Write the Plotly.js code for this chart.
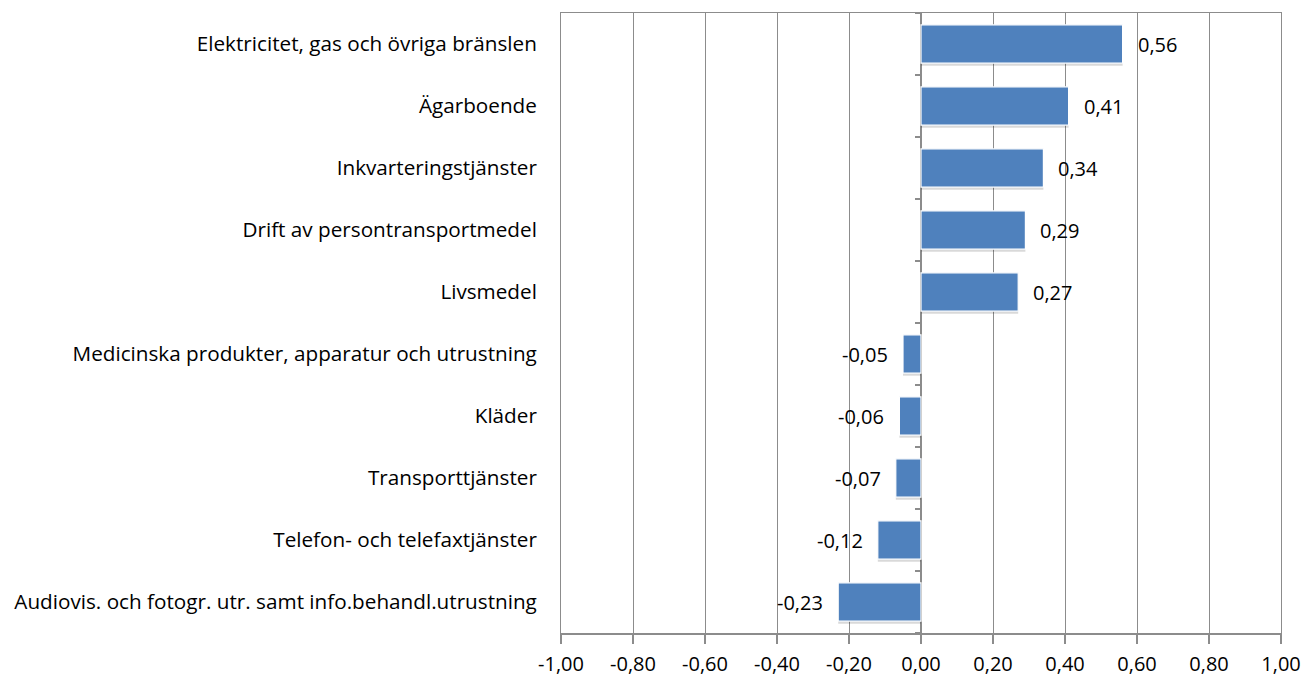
<!DOCTYPE html>
<html><head><meta charset="utf-8">
<script src="https://cdn.plot.ly/plotly-3.0.1.min.js"></script>
<style>html,body{margin:0;padding:0;background:#fff;}#chart{width:1306px;height:675px;}</style>
</head><body><div id="chart"></div>
<script>
const categories = [
  "Elektricitet, gas och övriga bränslen",
  "Ägarboende",
  "Inkvarteringstjänster",
  "Drift av persontransportmedel",
  "Livsmedel",
  "Medicinska produkter, apparatur och utrustning",
  "Kläder",
  "Transporttjänster",
  "Telefon- och telefaxtjänster",
  "Audiovis. och fotogr. utr. samt info.behandl.utrustning"
];
const values = [0.56, 0.41, 0.34, 0.29, 0.27, -0.05, -0.06, -0.07, -0.12, -0.23];
const xTickVals = [-1, -0.8, -0.6, -0.4, -0.2, 0, 0.2, 0.4, 0.6, 0.8, 1];
const xTickText = ["-1,00","-0,80","-0,60","-0,40","-0,20","0,00","0,20","0,40","0,60","0,80","1,00"];

const fmt = v => (v < 0 ? "-" : "") + Math.abs(v).toFixed(2).replace(".", ",");
const FONT = "'Open Sans', sans-serif";
const FS = 20;

const shadow = {
  type: "bar", orientation: "h", x: values, y: categories,
  marker: {color: "rgba(0,0,0,0.15)", line: {width: 0}},
  width: 0.62, offset: -0.27, hoverinfo: "skip", showlegend: false
};
const bars = {
  type: "bar", orientation: "h", x: values, y: categories,
  marker: {color: "#4F81BD", line: {color: "#ffffff", width: 1.2}},
  width: 0.62, offset: -0.31, showlegend: false
};
const tickTrace = {
  type: "scatter", x: [0], y: [0], yaxis: "y2", mode: "markers",
  marker: {opacity: 0}, hoverinfo: "skip", showlegend: false
};

const annotations = values.map((v, i) => ({
  x: v, y: categories[i], xref: "x", yref: "y",
  text: fmt(v), showarrow: false,
  xanchor: v >= 0 ? "left" : "right",
  xshift: v >= 0 ? 13 : -13,
  font: {family: FONT, size: FS, color: "#000"}
}));

const layout = {
  width: 1306, height: 675,
  margin: {l: 561, r: 25, t: 13, b: 42},
  paper_bgcolor: "#fff", plot_bgcolor: "#fff",
  barmode: "overlay",
  font: {family: FONT, size: FS, color: "#000"},
  xaxis: {
    range: [-1, 1], tickvals: xTickVals, ticktext: xTickText,
    showgrid: true, gridcolor: "#8c8c8c", gridwidth: 1,
    zeroline: true, zerolinecolor: "#8c8c8c", zerolinewidth: 1.5,
    showline: true, linecolor: "#8c8c8c", linewidth: 1.5, mirror: true,
    ticks: "outside", ticklen: 9, tickcolor: "#8c8c8c", tickwidth: 1.5,
    ticklabelstandoff: 3,
    tickfont: {family: FONT, size: FS, color: "#000"}
  },
  yaxis: {
    type: "category", autorange: "reversed",
    showgrid: false, zeroline: false,
    showline: true, mirror: true, linecolor: "#8c8c8c", linewidth: 1,
    ticks: "",
    ticklabelstandoff: 19,
    tickfont: {family: FONT, size: 20.7, color: "#000"}
  },
  yaxis2: {
    overlaying: "y", anchor: "free", position: 0.5, side: "left",
    range: [9.5, -0.5], tickmode: "linear", tick0: 0.5, dtick: 1,
    showticklabels: false, showgrid: false, zeroline: false, showline: false,
    ticks: "outside", ticklen: 6, tickcolor: "#8c8c8c", tickwidth: 1.5
  },
  annotations: annotations
};

Plotly.newPlot("chart", [shadow, bars, tickTrace], layout, {displayModeBar: false, staticPlot: true});
</script></body></html>
